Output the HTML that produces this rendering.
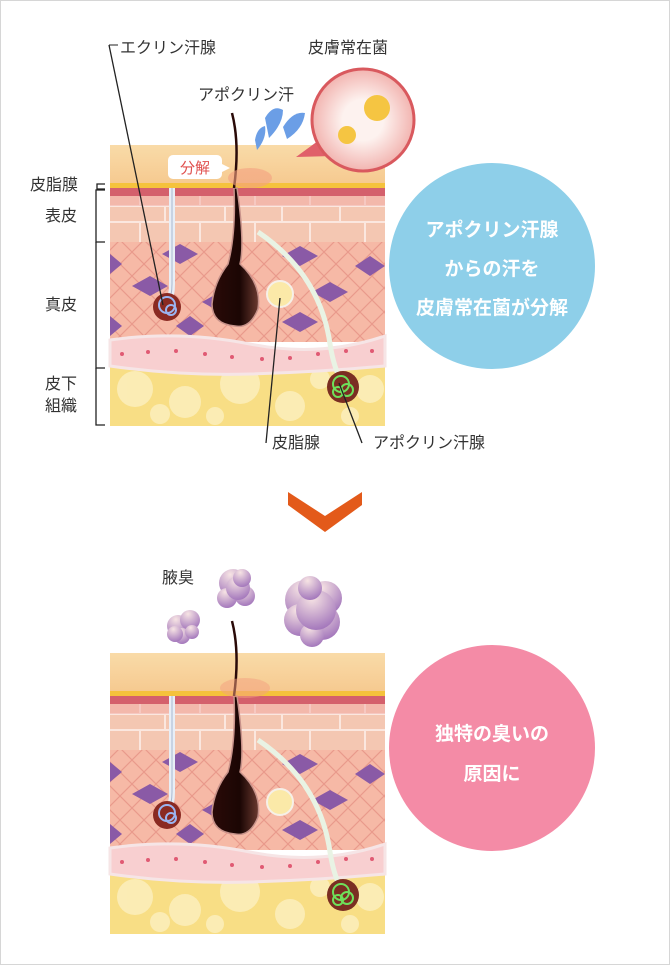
<!DOCTYPE html>
<html><head><meta charset="utf-8"><style>
html,body{margin:0;padding:0;background:#fff}
svg{display:block}
text{font-family:"Liberation Sans","Noto Sans CJK JP",sans-serif}
</style></head><body>
<svg width="670" height="965" viewBox="0 0 670 965" xmlns="http://www.w3.org/2000/svg">
<defs>
<linearGradient id="surf" x1="0" y1="0" x2="0" y2="1"><stop offset="0" stop-color="#f9dba8"/><stop offset="1" stop-color="#f6c98f"/></linearGradient>
<linearGradient id="hair" x1="0" y1="0" x2="1" y2="0"><stop offset="0" stop-color="#2a0a08"/><stop offset="0.6" stop-color="#1b0604"/><stop offset="1" stop-color="#6b3a30"/></linearGradient>
<radialGradient id="cloud" cx="0.4" cy="0.2" r="0.9"><stop offset="0" stop-color="#f7e4e4"/><stop offset="1" stop-color="#9a6bb7"/></radialGradient>
<radialGradient id="mag" cx="0.5" cy="0.5" r="0.5"><stop offset="0.4" stop-color="#fdf2ef"/><stop offset="1" stop-color="#f2b4b0"/></radialGradient>
<pattern id="cross" width="24" height="24" patternUnits="userSpaceOnUse"><path d="M0 0L24 24M24 0L0 24" stroke="#e99a8c" stroke-width="1.2" fill="none"/></pattern>
<g id="block">
  <path d="M110 10 L385 10 L385 50 L110 50 Z" fill="url(#surf)"/>
  <path d="M110 48 H385 V53 H110Z" fill="#f5c23c"/>
  <g transform="translate(0,9)">
  <rect x="110" y="44" width="275" height="54" fill="#f4c7b2"/>
  <rect x="110" y="44" width="275" height="8" fill="#d4606c"/>
  <g stroke="#fbe7df" stroke-width="2">
    <line x1="110" y1="62" x2="385" y2="62"/><line x1="110" y1="78" x2="385" y2="78"/>
    <line x1="140" y1="52" x2="140" y2="62"/><line x1="200" y1="52" x2="200" y2="62"/><line x1="255" y1="52" x2="255" y2="62"/><line x1="310" y1="52" x2="310" y2="62"/><line x1="365" y1="52" x2="365" y2="62"/>
    <line x1="165" y1="62" x2="165" y2="78"/><line x1="225" y1="62" x2="225" y2="78"/><line x1="282" y1="62" x2="282" y2="78"/><line x1="340" y1="62" x2="340" y2="78"/>
    <line x1="140" y1="78" x2="140" y2="98"/><line x1="200" y1="78" x2="200" y2="98"/><line x1="255" y1="78" x2="255" y2="98"/><line x1="310" y1="78" x2="310" y2="98"/><line x1="365" y1="78" x2="365" y2="98"/>
  </g>
  <rect x="110" y="52" width="275" height="10" fill="#f2a9a3" opacity="0.5"/>
  <rect x="110" y="98" width="275" height="100" fill="#f6b9a6"/>
  <rect x="110" y="98" width="275" height="100" fill="url(#cross)"/>
  <g fill="#8a5aa6">
    <path d="M110 110 l12 10 -12 10z"/><path d="M180 100 l18 10 -18 10 -18 -10z"/><path d="M300 102 l18 10 -18 10 -18 -10z"/><path d="M370 112 l15 10 -15 10 -15 -10z"/>
    <path d="M150 132 l18 10 -18 10 -18 -10z"/><path d="M220 148 l18 10 -18 10 -18 -10z"/><path d="M330 138 l18 10 -18 10 -18 -10z"/>
    <path d="M110 172 l12 10 -12 10z"/><path d="M190 172 l14 10 -14 10 -14 -10z"/><path d="M300 168 l18 10 -18 10 -18 -10z"/>
  </g>
  <rect x="110" y="210" width="275" height="72" fill="#f8de85"/>
  <g fill="#fcefbd" opacity="0.85">
    <circle cx="135" cy="245" r="18"/><circle cx="185" cy="258" r="16"/><circle cx="240" cy="240" r="20"/><circle cx="290" cy="262" r="15"/><circle cx="370" cy="245" r="14"/><circle cx="160" cy="270" r="10"/><circle cx="320" cy="235" r="10"/><circle cx="215" cy="272" r="9"/><circle cx="350" cy="272" r="9"/>
  </g>
  <path d="M110 196 Q180 186 250 200 T385 192 V222 Q320 228 250 230 T110 222 Z" fill="#f8cfd0" stroke="#f6e5e6" stroke-width="3"/>
  <g fill="#e05a73">
    <circle cx="122" cy="210" r="2"/><circle cx="148" cy="208" r="2"/><circle cx="176" cy="207" r="2"/><circle cx="205" cy="210" r="2"/><circle cx="232" cy="213" r="2"/><circle cx="262" cy="215" r="2"/><circle cx="290" cy="214" r="2"/><circle cx="318" cy="210" r="2"/><circle cx="346" cy="207" r="2"/><circle cx="372" cy="207" r="2"/>
  </g>
  <path d="M172 44 V140 Q172 152 168 160" stroke="#e8eef6" stroke-width="6" fill="none"/>
  <path d="M172 44 V140 Q172 152 168 160" stroke="#a9b8d0" stroke-width="1" fill="none"/>
  <circle cx="167" cy="163" r="14" fill="#8a2a22"/>
  <circle cx="167" cy="161" r="8" fill="none" stroke="#9bb4f0" stroke-width="2"/>
  <circle cx="171" cy="166" r="5" fill="none" stroke="#9bb4f0" stroke-width="2"/>
  <path d="M237 44 Q245 100 240 120 Q262 140 258 165 Q250 185 235 182 Q212 180 212 160 Q214 138 228 120 Q236 90 234 44Z" fill="url(#hair)" stroke="#c7928a" stroke-width="1.5"/>
  <path d="M234 44 Q240 0 232 -31" stroke="#2a0a08" stroke-width="2.5" fill="none"/>
  <circle cx="280" cy="150" r="13" fill="#fbe9a8" stroke="#f6f0e8" stroke-width="2"/>
  <path d="M258 88 Q320 130 330 200 Q334 225 342 238" stroke="#e9f3e4" stroke-width="5" fill="none"/>
  <circle cx="343" cy="243" r="16" fill="#7a2e22"/>
  <circle cx="341" cy="240" r="8" fill="none" stroke="#6ee05a" stroke-width="2"/>
  <circle cx="347" cy="246" r="6" fill="none" stroke="#6ee05a" stroke-width="2"/>
  <circle cx="338" cy="248" r="5" fill="none" stroke="#6ee05a" stroke-width="2"/>
  </g>
</g>
</defs>
<rect x="0.5" y="0.5" width="669" height="964" fill="#fff" stroke="#d6d6d6"/>

<g transform="translate(0,135)"><use href="#block"/></g>
<ellipse cx="250" cy="178" rx="22" ry="10" fill="#f4a080" opacity="0.6"/>
<path d="M265 118 q8 -14 18 -8 q0 14 -14 28 z" fill="#6b9ee6"/>
<path d="M255 140 q2 -12 10 -14 q2 12 -8 24 z" fill="#6b9ee6"/>
<path d="M283 127 q10 -16 22 -14 q-2 16 -18 26 z" fill="#6b9ee6"/>
<rect x="168" y="155" width="54" height="24" rx="5" fill="#fff"/>
<path d="M222 164 l8 4 -8 4z" fill="#fff"/>
<text x="195" y="173" font-size="15" fill="#e0504e" text-anchor="middle">分解</text>

<path d="M296 157 L322 138 L333 156 Z" fill="#e0606a"/>
<circle cx="363" cy="120" r="51" fill="url(#mag)" stroke="#d9595e" stroke-width="3"/>
<circle cx="377" cy="108" r="13" fill="#f5c542"/>
<circle cx="347" cy="135" r="9" fill="#f5c542"/>

<text x="120" y="53" font-size="16" fill="#333">エクリン汗腺</text>
<line x1="109" y1="45" x2="118" y2="45" stroke="#222"/>
<line x1="109" y1="45" x2="163" y2="305" stroke="#222" stroke-width="1.3"/>
<text x="308" y="53" font-size="16" fill="#333">皮膚常在菌</text>
<text x="198" y="100" font-size="16" fill="#333">アポクリン汗</text>
<text x="30" y="190" font-size="16" fill="#333">皮脂膜</text>
<text x="45" y="221" font-size="16" fill="#333">表皮</text>
<text x="45" y="310" font-size="16" fill="#333">真皮</text>
<text x="45" y="389" font-size="16" fill="#333">皮下</text>
<text x="45" y="411" font-size="16" fill="#333">組織</text>
<g stroke="#222" stroke-width="1.3" fill="none">
  <path d="M105 184 H97 V189 H105"/>
  <path d="M105 190 H96 V242 H105"/>
  <path d="M96 242 V368 H105"/>
  <path d="M96 368 V425 H105"/>
  <line x1="280" y1="298" x2="266" y2="443"/>
  <line x1="339" y1="383" x2="362" y2="443"/>
</g>
<text x="272" y="448" font-size="16" fill="#333">皮脂腺</text>
<text x="373" y="448" font-size="16" fill="#333">アポクリン汗腺</text>

<circle cx="492" cy="266" r="103" fill="#8ecfe9"/>
<text x="492" y="236" font-size="19" fill="#fff" font-weight="bold" text-anchor="middle">アポクリン汗腺</text>
<text x="492" y="275" font-size="19" fill="#fff" font-weight="bold" text-anchor="middle">からの汗を</text>
<text x="492" y="314" font-size="19" fill="#fff" font-weight="bold" text-anchor="middle">皮膚常在菌が分解</text>

<path d="M288 492 L325 516 L362 492 L362 505 L325 532 L288 505Z" fill="#e35a1a"/>

<g transform="translate(0,643)"><use href="#block"/></g>
<ellipse cx="245" cy="688" rx="25" ry="10" fill="#f4a080" opacity="0.5"/>

<g fill="url(#cloud)">
  <circle cx="178" cy="626" r="11"/><circle cx="190" cy="620" r="10"/><circle cx="182" cy="636" r="8"/><circle cx="192" cy="632" r="7"/><circle cx="175" cy="634" r="8"/>
  <circle cx="233" cy="583" r="14"/><circle cx="245" cy="596" r="10"/><circle cx="227" cy="598" r="10"/><circle cx="238" cy="588" r="12"/><circle cx="242" cy="578" r="9"/>
  <circle cx="305" cy="600" r="20"/><circle cx="325" cy="598" r="17"/><circle cx="300" cy="620" r="16"/><circle cx="322" cy="622" r="18"/><circle cx="312" cy="635" r="12"/><circle cx="316" cy="610" r="20"/><circle cx="310" cy="588" r="12"/>
</g>
<text x="162" y="583" font-size="16" fill="#333">腋臭</text>

<circle cx="492" cy="748" r="103" fill="#f48ba6"/>
<text x="492" y="740" font-size="19" fill="#fff" font-weight="bold" text-anchor="middle">独特の臭いの</text>
<text x="492" y="780" font-size="19" fill="#fff" font-weight="bold" text-anchor="middle">原因に</text>
</svg>
</body></html>
